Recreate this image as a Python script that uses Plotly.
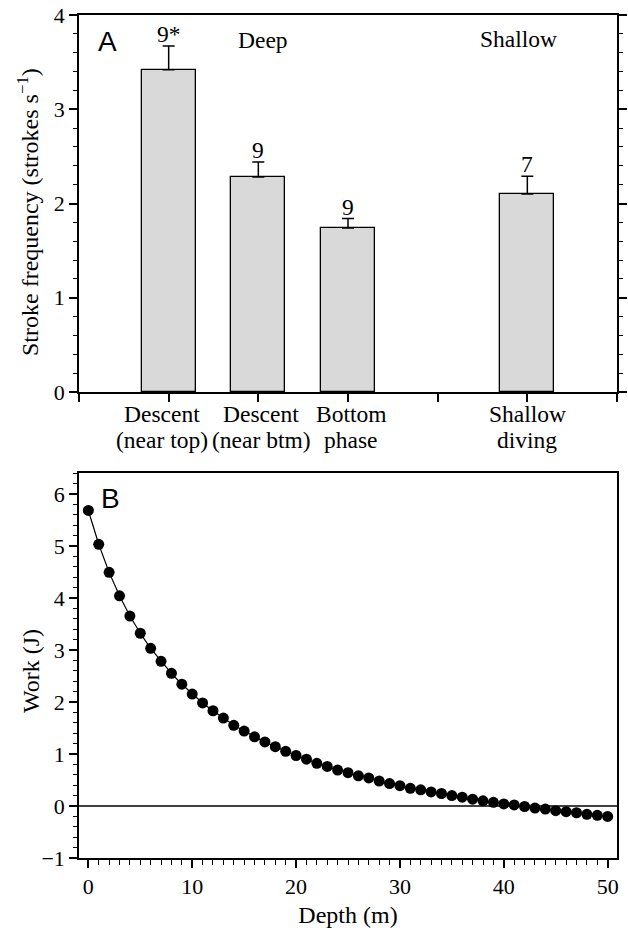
import plotly.graph_objects as go

# Panel A data
cat_pos = [1, 2, 3, 5]
cat_line1 = ["Descent", "Descent", "Bottom", "Shallow"]
cat_line2 = ["(near top)", "(near btm)", "phase", "diving"]
stroke_freq = [3.42, 2.28, 1.74, 2.10]
stroke_err = [0.25, 0.16, 0.10, 0.19]
n_labels = ["9*", "9", "9", "7"]

# Panel B data
depth = list(range(0, 51))
work = [5.68, 5.03, 4.49, 4.04, 3.65, 3.32, 3.03, 2.78, 2.55, 2.34,
        2.15, 1.98, 1.83, 1.69, 1.55, 1.44, 1.33, 1.23, 1.14, 1.05,
        0.97, 0.90, 0.82, 0.76, 0.69, 0.64, 0.58, 0.54, 0.48, 0.43,
        0.39, 0.34, 0.31, 0.27, 0.24, 0.20, 0.17, 0.13, 0.10, 0.07,
        0.04, 0.02, -0.01, -0.04, -0.06, -0.09, -0.11, -0.13, -0.16, -0.18,
        -0.20]

W, H = 628, 928
FONT = "Liberation Serif"
FS_TICK = 22
FS_LAB = 23.5
FS_TITLE = 24
label_xshift = [-7, 3, 3, 0]

def fx(px):
    return px / W

def fy(py):
    return 1 - py / H

fig = go.Figure()

fig.add_trace(go.Bar(
    x=cat_pos, y=stroke_freq, width=0.6,
    marker=dict(color="#d9d9d9", line=dict(color="black", width=1.3)),
    error_y=dict(type="data", array=stroke_err, arrayminus=[0]*4, symmetric=False,
                 color="black", thickness=1.5, width=6),
    xaxis="x", yaxis="y", showlegend=False))

fig.add_trace(go.Scatter(
    x=depth, y=work, mode="lines+markers",
    line=dict(color="black", width=1.2),
    marker=dict(color="black", size=11),
    xaxis="x2", yaxis="y2", showlegend=False))

axis_common = dict(showline=True, linecolor="black", linewidth=1.5,
                   ticks="outside", tickcolor="black", tickwidth=1.5,
                   showgrid=False, zeroline=False, automargin=False,
                   tickfont=dict(family=FONT, size=FS_TICK, color="black"))

fig.update_layout(
    width=W, height=H,
    margin=dict(l=0, r=0, t=0, b=0),
    plot_bgcolor="white", paper_bgcolor="white",
    font=dict(family=FONT, size=FS_TICK, color="black"),
    bargap=0,
    xaxis=dict(domain=[fx(79), fx(617)], anchor="y", range=[0, 6],
               tickvals=[0, 1, 2, 3, 4, 5, 6], showticklabels=False,
               ticklen=8, mirror=True,
               **axis_common),
    yaxis=dict(domain=[fy(392), fy(15)], anchor="x", range=[0, 4],
               tickvals=[0, 1, 2, 3, 4], ticklen=8, mirror="ticks",
               minor=dict(ticks="outside", dtick=0.2, ticklen=4, tickcolor="black", tickwidth=1.2),
               **axis_common),
    xaxis2=dict(domain=[fx(79), fx(617)], anchor="y2", range=[-0.9, 50.9],
                tickvals=[0, 10, 20, 30, 40, 50], ticklen=8, mirror=True,
                minor=dict(ticks="outside", dtick=1, tick0=0, ticklen=5, tickcolor="black", tickwidth=1.2),
                title=dict(text="Depth (m)", font=dict(family=FONT, size=FS_TITLE), standoff=10),
                **axis_common),
    yaxis2=dict(domain=[fy(858), fy(473)], anchor="x2", range=[-1, 6.4],
                tickvals=[-1, 0, 1, 2, 3, 4, 5, 6], ticktext=["\u22121", "0", "1", "2", "3", "4", "5", "6"],
                ticklen=8, mirror=True,
                minor=dict(ticks="outside", dtick=0.2, ticklen=4, tickcolor="black", tickwidth=1.2),
                **axis_common),
)

# y-axis titles
fig.add_annotation(x=fx(28), y=fy(212), xref="paper", yref="paper",
                   text="Stroke frequency (strokes s<sup>\u22121</sup>)", textangle=-90,
                   showarrow=False, xanchor="center", yanchor="middle",
                   font=dict(family=FONT, size=FS_TITLE))
fig.add_annotation(x=fx(31), y=fy(671), xref="paper", yref="paper",
                   text="Work (J)", textangle=-90,
                   showarrow=False, xanchor="center", yanchor="middle",
                   font=dict(family=FONT, size=FS_TITLE))

# zero line in panel B
fig.add_shape(type="line", xref="x2 domain", yref="y2", x0=0, x1=1, y0=0, y1=0,
              line=dict(color="black", width=1.5))

# category labels (two lines each)
for xp, l1, l2, dx in zip(cat_pos, cat_line1, cat_line2, label_xshift):
    fig.add_annotation(x=xp, y=fy(414), xref="x", yref="paper", text=l1, showarrow=False,
                       xanchor="center", yanchor="middle", xshift=dx,
                       font=dict(family=FONT, size=FS_LAB))
    fig.add_annotation(x=xp, y=fy(440), xref="x", yref="paper", text=l2, showarrow=False,
                       xanchor="center", yanchor="middle", xshift=dx,
                       font=dict(family=FONT, size=FS_LAB))

# n labels above error bars
for xp, v, e, t in zip(cat_pos, stroke_freq, stroke_err, n_labels):
    fig.add_annotation(x=xp, y=v + e, xref="x", yref="y", text=t, showarrow=False,
                       xanchor="center", yanchor="bottom", font=dict(family=FONT, size=FS_LAB), yshift=-3)

fig.add_annotation(x=2.05, y=3.73, xref="x", yref="y", text="Deep", showarrow=False,
                   xanchor="center", yanchor="middle", font=dict(family=FONT, size=FS_LAB))
fig.add_annotation(x=4.9, y=3.75, xref="x", yref="y", text="Shallow", showarrow=False,
                   xanchor="center", yanchor="middle", font=dict(family=FONT, size=FS_LAB))

fig.add_annotation(x=fx(107), y=fy(42), xref="paper", yref="paper", text="A", showarrow=False,
                   xanchor="center", yanchor="middle",
                   font=dict(family="Liberation Sans", size=28))
fig.add_annotation(x=fx(110), y=fy(498), xref="paper", yref="paper", text="B", showarrow=False,
                   xanchor="center", yanchor="middle",
                   font=dict(family="Liberation Sans", size=28))

fig.write_html("out.html", config={"displayModeBar": False},
               post_script="document.body.style.margin='0';document.body.style.overflow='hidden';")
